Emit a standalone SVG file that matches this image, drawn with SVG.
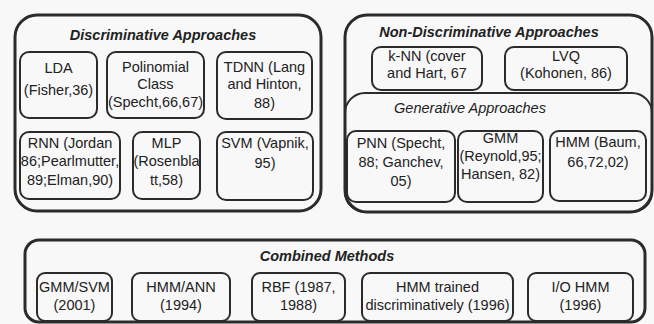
<svg xmlns="http://www.w3.org/2000/svg" width="654" height="324" viewBox="0 0 654 324">
  <style>
    .bg { fill: #f8f8f8; }
    .outer { fill: none; stroke: #2b2b2b; stroke-width: 3; }
    .sub { fill: none; stroke: #2b2b2b; stroke-width: 2; }
    .box { fill: none; stroke: #2b2b2b; stroke-width: 2; }
    text { font-family: "Liberation Sans", Arial, sans-serif; font-size: 14.5px; fill: #222; text-anchor: middle; }
    .title { font-weight: bold; font-style: italic; }
    .ital { font-style: italic; }
  </style>
  <rect class="bg" x="0" y="0" width="654" height="324"/>

  <!-- Discriminative approaches -->
  <g id="discriminative">
    <rect class="outer" x="15" y="15" width="306" height="196" rx="22"/>
    <text class="title" x="163" y="40">Discriminative Approaches</text>
  </g>
  <g id="lda">
    <rect class="box" x="20" y="52" width="77" height="66" rx="9"/>
    <text x="58.5" y="73">LDA</text>
    <text x="58.5" y="95">(Fisher,36)</text>
  </g>
  <g id="polinomial">
    <rect class="box" x="107" y="52" width="97" height="66" rx="9"/>
    <text x="155.5" y="72">Polinomial</text>
    <text x="155.5" y="89">Class</text>
    <text x="155.5" y="107">(Specht,66,67)</text>
  </g>
  <g id="tdnn">
    <rect class="box" x="217" y="52" width="95" height="67" rx="9"/>
    <text x="264.5" y="72">TDNN (Lang</text>
    <text x="264.5" y="89">and Hinton,</text>
    <text x="264.5" y="108">88)</text>
  </g>
  <g id="rnn">
    <rect class="box" x="20" y="132" width="100" height="67" rx="9"/>
    <text x="70" y="148">RNN (Jordan</text>
    <text x="70" y="166">86;Pearlmutter,</text>
    <text x="70" y="185">89;Elman,90)</text>
  </g>
  <g id="mlp">
    <rect class="box" x="133" y="132" width="67" height="67" rx="9"/>
    <text x="166.5" y="148">MLP</text>
    <text x="166.5" y="166">(Rosenbla</text>
    <text x="166.5" y="185">tt,58)</text>
  </g>
  <g id="svm">
    <rect class="box" x="217" y="132" width="96" height="68" rx="9"/>
    <text x="265" y="148">SVM (Vapnik,</text>
    <text x="265" y="168">95)</text>
  </g>

  <!-- Non-discriminative approaches -->
  <g id="non-discriminative">
    <rect class="outer" x="345" y="15" width="307" height="197" rx="22"/>
    <text class="title" x="489" y="37">Non-Discriminative Approaches</text>
  </g>
  <g id="knn">
    <rect class="box" x="372" y="47" width="110" height="43" rx="9"/>
    <text x="427" y="61">k-NN (cover</text>
    <text x="427" y="78">and Hart, 67</text>
  </g>
  <g id="lvq">
    <rect class="box" x="505" y="47" width="122" height="43" rx="9"/>
    <text x="566" y="61">LVQ</text>
    <text x="566" y="78">(Kohonen, 86)</text>
  </g>
  <g id="generative">
    <rect class="sub" x="345" y="93" width="307" height="119" rx="20"/>
    <text class="ital" x="470" y="113">Generative Approaches</text>
  </g>
  <g id="pnn">
    <rect class="box" x="347" y="131" width="108" height="71" rx="9"/>
    <text x="401" y="148">PNN (Specht,</text>
    <text x="401" y="167">88; Ganchev,</text>
    <text x="401" y="186">05)</text>
  </g>
  <g id="gmm">
    <rect class="box" x="458" y="131" width="85" height="71" rx="9"/>
    <text x="500.5" y="143">GMM</text>
    <text x="500.5" y="161">(Reynold,95;</text>
    <text x="500.5" y="179">Hansen, 82)</text>
  </g>
  <g id="hmm">
    <rect class="box" x="550" y="131" width="96" height="70" rx="9"/>
    <text x="598" y="147">HMM (Baum,</text>
    <text x="598" y="167">66,72,02)</text>
  </g>

  <!-- Combined methods -->
  <g id="combined">
    <rect class="outer" x="25" y="240" width="620" height="82" rx="14"/>
    <text class="title" x="327" y="261">Combined Methods</text>
  </g>
  <g id="gmm-svm">
    <rect class="box" x="37" y="273" width="75" height="48" rx="8"/>
    <text x="74.5" y="292">GMM/SVM</text>
    <text x="74.5" y="310">(2001)</text>
  </g>
  <g id="hmm-ann">
    <rect class="box" x="132" y="273" width="98" height="48" rx="8"/>
    <text x="181" y="292">HMM/ANN</text>
    <text x="181" y="310">(1994)</text>
  </g>
  <g id="rbf">
    <rect class="box" x="252" y="273" width="93" height="48" rx="8"/>
    <text x="298.5" y="292">RBF (1987,</text>
    <text x="298.5" y="310">1988)</text>
  </g>
  <g id="hmm-trained">
    <rect class="box" x="362" y="273" width="151" height="48" rx="8"/>
    <text x="437.5" y="292">HMM trained</text>
    <text x="437.5" y="310">discriminatively (1996)</text>
  </g>
  <g id="io-hmm">
    <rect class="box" x="528" y="273" width="105" height="48" rx="8"/>
    <text x="580.5" y="292">I/O HMM</text>
    <text x="580.5" y="310">(1996)</text>
  </g>

  <!-- no connectors in this diagram -->
  <g id="connectors"/>
</svg>
